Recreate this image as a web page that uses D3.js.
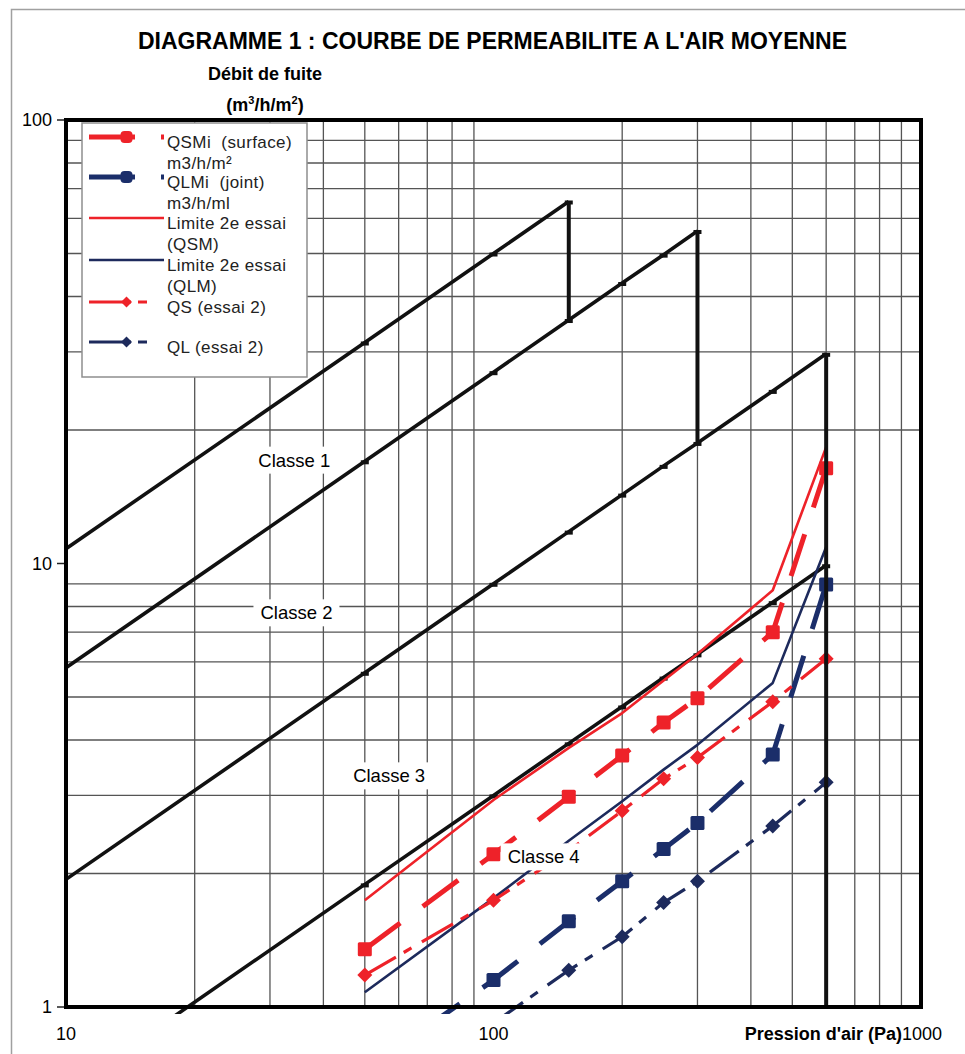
<!DOCTYPE html>
<html><head><meta charset="utf-8">
<script src="https://cdn.jsdelivr.net/npm/d3@7"></script>
<style>
body{margin:0;background:#fff}
svg{display:block}
text{font-family:"Liberation Sans",Arial,sans-serif;white-space:pre}
</style>
</head><body>
<svg id="c" width="965" height="1054"></svg>
<script>
// ---------------- DATA ----------------
const titleText = "DIAGRAMME 1 : COURBE DE PERMEABILITE A L'AIR MOYENNE";
const yTitle1 = "Débit de fuite";
const xTitle = "Pression d'air (Pa)";
const xTickLabels = [10, 100, 1000];
const yTickLabels = [1, 10, 100];

// Test pressures (Pa)
const pressures = [50, 100, 150, 200, 250, 300, 450, 600];
// Series
const qsmi   = [1.35, 2.21, 2.98, 3.69, 4.38, 4.97, 7.0, 16.4];   // QSMi (surface) m3/h/m²
const qlmi   = [0.72, 1.15, 1.56, 1.92, 2.27, 2.60, 3.71, 8.97];  // QLMi (joint) m3/h/ml
const limQSM = [1.74, 2.93, 3.84, 4.60, 5.45, 6.25, 8.70, 18.3];  // Limite 2e essai (QSM)
const limQLM = [1.08, 1.76, 2.37, 2.91, 3.43, 3.90, 5.38, 10.9];  // Limite 2e essai (QLM)
const qs2    = [1.18, 1.74, 2.25, 2.77, 3.27, 3.65, 4.88, 6.10];  // QS (essai 2)
const ql2    = [null, 0.92, 1.21, 1.44, 1.72, 1.92, 2.56, 3.21];  // QL (essai 2)

// Class boundary lines
const classP = [10, 50, 100, 150, 200, 250, 300, 450, 600];
const class1 = [10.8, 31.5, 50, 65.5];
const class2 = [5.82, 17.0, 27, 35.4, 42.9, 49.7, 56.2];
const class3 = [1.94, 5.67, 9, 11.8, 14.3, 16.6, 18.7, 24.5, 29.7];
const class4 = [0.646, 1.89, 3, 3.93, 4.76, 5.53, 6.24, 8.18, 9.91];
const classNames = ["Classe 1", "Classe 2", "Classe 3", "Classe 4"];
const classLabelAt = [[34.2, 17.1], [34.6, 7.74], [57, 3.32], [131, 2.18]]; // (Pa, débit) centre of labels

const RED = "#ee2229", NAVY = "#1d2a5c", NAVY2 = "#1b2e6a";

// ---------------- CHART ----------------
const svg = d3.select('#c');
const x = d3.scaleLog().domain([10, 1000]).range([66, 921]);
const y = d3.scaleLog().domain([1, 100]).range([1007, 120]);

// page border
svg.append('path').attr('d', 'M11.5,1054V9.5H965').attr('fill', 'none')
  .attr('stroke', '#a0a0a0').attr('stroke-width', 1.5);

// title
svg.append('text').attr('x', 492.5).attr('y', 49).attr('text-anchor', 'middle')
  .attr('font-size', 23).attr('font-weight', 'bold').text(titleText);
svg.append('text').attr('x', 265).attr('y', 79.5).attr('text-anchor', 'middle')
  .attr('font-size', 18).attr('font-weight', 'bold').text(yTitle1);
const yt2 = svg.append('text').attr('x', 265).attr('y', 110.5).attr('text-anchor', 'middle')
  .attr('font-size', 18).attr('font-weight', 'bold');
yt2.append('tspan').text('(m');
yt2.append('tspan').attr('font-size', 11).attr('dy', -7).text('3');
yt2.append('tspan').attr('dy', 7).text('/h/m');
yt2.append('tspan').attr('font-size', 11).attr('dy', -7).text('2');
yt2.append('tspan').attr('dy', 7).text(')');

// grid
const xGrid = d3.range(20, 100, 10).concat(d3.range(200, 1000, 100));
const yGrid = d3.range(2, 10, 1).concat(d3.range(20, 100, 10));
const g = svg.append('g');
g.selectAll('.vg').data(xGrid).join('line')
  .attr('x1', d => x(d)).attr('x2', d => x(d)).attr('y1', y(100)).attr('y2', y(1))
  .attr('stroke', '#555').attr('stroke-width', 1.3);
g.selectAll('.hg').data(yGrid).join('line')
  .attr('y1', d => y(d)).attr('y2', d => y(d)).attr('x1', x(10)).attr('x2', x(1000))
  .attr('stroke', '#555').attr('stroke-width', 1.3);

// axis tick labels
svg.selectAll('.yl').data(yTickLabels).join('text')
  .attr('x', 52).attr('y', d => y(d)).attr('dy', '0.36em').attr('text-anchor', 'end')
  .attr('font-size', 18).text(d => d);
svg.selectAll('.yt').data(yTickLabels).join('line')
  .attr('x1', 57).attr('x2', 66).attr('y1', d => y(d)).attr('y2', d => y(d))
  .attr('stroke', '#222').attr('stroke-width', 1.5);
svg.selectAll('.xl').data(xTickLabels).join('text')
  .attr('x', d => x(d) + (d === 1000 ? 1 : 0)).attr('y', 1040).attr('text-anchor', 'middle')
  .attr('font-size', 18).text(d => d);
svg.append('text').attr('x', 902).attr('y', 1040).attr('text-anchor', 'end')
  .attr('font-size', 18).attr('font-weight', 'bold').text(xTitle);

// clip
svg.append('defs').append('clipPath').attr('id', 'clip')
  .append('rect').attr('x', x(10)).attr('y', y(100)).attr('width', x(1000) - x(10)).attr('height', y(1) - y(100) + 7);
const plot = svg.append('g').attr('clip-path', 'url(#clip)');

// class lines
const line = d3.line().defined(d => d[1] != null).x(d => x(d[0])).y(d => y(d[1]));
const classes = [class1, class2, class3, class4];
classes.forEach(c => {
  const pts = c.map((v, i) => [classP[i], v]);
  plot.append('path').attr('d', line(pts)).attr('fill', 'none').attr('stroke', '#111')
    .attr('stroke-width', 3.6).attr('stroke-linejoin', 'round');
  plot.selectAll(null).data(pts.slice(1)).join('rect')
    .attr('x', d => x(d[0]) - 4).attr('y', d => y(d[1]) - 1).attr('width', 8).attr('height', 4)
    .attr('fill', '#111');
});
// vertical class limits
const vLimits = [
  [[classP[class1.length - 1], class1[class1.length - 1]], [classP[class1.length - 1], class2[class1.length - 1]]],
  [[classP[class2.length - 1], class2[class2.length - 1]], [classP[class2.length - 1], class3[class2.length - 1]]],
  [[classP[class3.length - 1], class3[class3.length - 1]], [classP[class3.length - 1], 1]]
];
vLimits.forEach(v => {
  svg.append('path').attr('d', line(v)).attr('stroke', '#111').attr('stroke-width', 4).attr('fill', 'none');
});

// data series
function seriesPts(arr) { return arr.map((v, i) => [pressures[i], v]); }
const series = [
  {name: ['QSMi  (surface)', 'm3/h/m²'], data: qsmi, color: RED, w: 5, dash: '44,28', marker: 'square'},
  {name: ['QLMi  (joint)', 'm3/h/ml'], data: qlmi, color: NAVY2, w: 5, dash: '44,28', marker: 'square'},
  {name: ['Limite 2e essai', '(QSM)'], data: limQSM, color: RED, w: 2.6, dash: null, marker: null},
  {name: ['Limite 2e essai', '(QLM)'], data: limQLM, color: NAVY, w: 2.6, dash: null, marker: null},
  {name: ['QS (essai 2)'], data: qs2, color: RED, w: 3.2, dash: '36,9,9,12', marker: 'diamond'},
  {name: ['QL (essai 2)'], data: ql2, color: NAVY, w: 3.2, dash: '36,9,9,12', marker: 'diamond'}
];
function drawMarker(sel, type, color) {
  if (type === 'square') {
    sel.append('rect').attr('x', -7).attr('y', -7).attr('width', 14).attr('height', 14)
      .attr('rx', 1.5).attr('fill', color);
  } else if (type === 'diamond') {
    sel.append('path').attr('d', 'M0,-7.5L7.5,0L0,7.5L-7.5,0Z').attr('fill', color);
  }
}
series.forEach(s => {
  const pts = seriesPts(s.data);
  plot.append('path').attr('d', line(pts)).attr('fill', 'none').attr('stroke', s.color)
    .attr('stroke-width', s.w).attr('stroke-dasharray', s.dash).attr('stroke-linejoin', 'round');
  if (s.marker) {
    pts.filter(d => d[1] != null).forEach(d => {
      const m = plot.append('g').attr('transform', `translate(${x(d[0])},${y(d[1])})`);
      drawMarker(m, s.marker, s.color);
    });
  }
});

// class labels with white boxes
classNames.forEach((n, i) => {
  const [px, py] = classLabelAt[i];
  const gg = svg.append('g');
  const bg = gg.append('rect').attr('fill', '#fff');
  const t = gg.append('text').attr('x', x(px)).attr('y', y(py)).attr('text-anchor', 'middle')
    .attr('dy', '0.35em').attr('font-size', 18.5).text(n);
  const b = t.node().getBBox();
  bg.attr('x', b.x - 7).attr('y', b.y - 3).attr('width', b.width + 14).attr('height', b.height + 6);
});

// frame
svg.append('rect').attr('x', x(10)).attr('y', y(100)).attr('width', x(1000) - x(10))
  .attr('height', y(1) - y(100)).attr('fill', 'none').attr('stroke', '#000').attr('stroke-width', 4);

// legend
const lg = svg.append('g');
lg.append('rect').attr('x', 82).attr('y', 123).attr('width', 225).attr('height', 254)
  .attr('fill', '#fff').attr('stroke', '#8e8e8e').attr('stroke-width', 1.5);
const legY = [137, 177, 218, 260, 302, 342];
series.forEach((s, i) => {
  const yy = legY[i];
  lg.append('line').attr('x1', 89).attr('x2', 164).attr('y1', yy).attr('y2', yy)
    .attr('stroke', s.color).attr('stroke-width', s.w).attr('stroke-dasharray', s.dash === '44,28' ? '46,26' : (s.dash ? '42,7,9,20' : null));
  if (s.marker) {
    const m = lg.append('g').attr('transform', `translate(126.5,${yy})`);
    if (s.marker === 'square') {
      m.append('rect').attr('x', -6).attr('y', -6).attr('width', 12).attr('height', 12).attr('rx', 4).attr('fill', s.color);
    } else {
      m.append('path').attr('d', 'M0,-5.5L5.5,0L0,5.5L-5.5,0Z').attr('fill', s.color);
    }
  }
  s.name.forEach((tx, j) => {
    lg.append('text').attr('x', 167).attr('y', yy + 11 + j * 20.5).attr('font-size', 17)
      .attr('letter-spacing', 0.4).attr('fill', '#222').text(tx);
  });
});
</script>
</body></html>
